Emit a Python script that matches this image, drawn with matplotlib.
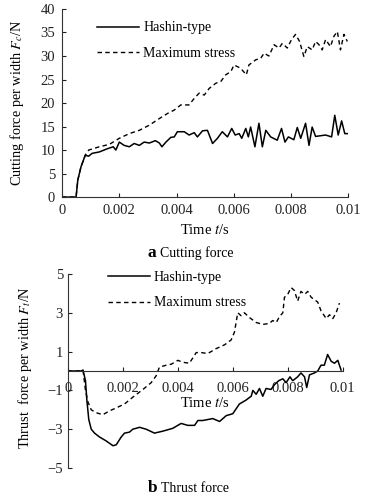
import matplotlib
matplotlib.use("Agg")
import matplotlib.pyplot as plt

plt.rcParams['font.family'] = ['Liberation Serif', 'DejaVu Serif']
plt.rcParams['mathtext.fontset'] = 'stix'

# (a) cutting force, Hashin-type
t_hc = [0, 0.00049, 0.00055, 0.00066, 0.00081, 0.00093, 0.00105, 0.0013, 0.00159, 0.00179,
        0.00188, 0.0020, 0.00217, 0.00235, 0.00252, 0.0027, 0.00287, 0.00305, 0.00326, 0.0034,
        0.00349, 0.00363, 0.0038, 0.00392, 0.00403, 0.00427, 0.00444, 0.00462, 0.00473, 0.00491,
        0.00508, 0.00526, 0.00543, 0.0056, 0.00578, 0.00593, 0.00605, 0.00619, 0.00628, 0.00642,
        0.00651, 0.00659, 0.00674, 0.00688, 0.007, 0.00712, 0.00729, 0.00752, 0.00767, 0.00779,
        0.00791, 0.0081, 0.00822, 0.00834, 0.00851, 0.00863, 0.00874, 0.00886, 0.00921, 0.00942,
        0.00953, 0.00965, 0.00977, 0.00988, 0.00997]
f_hc = [0, 0, 3.6, 6.4, 8.9, 8.7, 9.3, 9.6, 10.3, 10.7,
        10.0, 11.7, 11.0, 10.7, 11.4, 11.0, 11.7, 11.5, 12.0, 11.5,
        10.7, 11.7, 12.7, 12.8, 13.9, 13.9, 13.2, 13.7, 12.8, 14.1,
        14.2, 11.4, 12.5, 13.9, 12.8, 14.6, 13.2, 13.5, 12.5, 14.6,
        12.8, 14.9, 10.7, 15.7, 10.7, 14.2, 12.8, 12.1, 14.6, 11.7,
        12.8, 12.2, 14.8, 12.5, 15.7, 11.0, 14.9, 12.9, 13.2, 12.8,
        17.4, 13.2, 16.2, 13.5, 13.5]

# (a) cutting force, maximum stress
t_mc = [0, 0.00049, 0.00055, 0.00066, 0.00081, 0.00093, 0.0013, 0.00165, 0.002, 0.00235,
        0.0027, 0.00305, 0.0034, 0.00369, 0.00392, 0.00415, 0.00444, 0.00462, 0.00479, 0.00497,
        0.00514, 0.00537, 0.00555, 0.00572, 0.0059, 0.00601, 0.00624, 0.00644, 0.00653, 0.00677,
        0.00694, 0.00706, 0.00723, 0.00741, 0.00758, 0.0077, 0.00787, 0.00802, 0.00816, 0.0083,
        0.00845, 0.00857, 0.00874, 0.00886, 0.00898, 0.00909, 0.00921, 0.00938, 0.0095, 0.00962,
        0.00973, 0.00985, 0.00997]
f_mc = [0, 0, 3.6, 6.4, 8.9, 10.0, 10.7, 11.2, 12.5, 13.5,
        14.2, 15.3, 16.7, 17.8, 18.5, 19.6, 19.6, 21.0, 22.1, 21.7,
        23.1, 24.2, 24.6, 26.0, 26.7, 28.1, 27.4, 26.0, 28.1, 29.2,
        29.5, 30.6, 30.0, 32.4, 31.7, 32.7, 31.7, 33.5, 34.6, 33.1,
        29.9, 32.0, 31.3, 33.1, 32.4, 31.3, 33.5, 32.0, 34.2, 35.2,
        31.3, 34.6, 33.1]

# (b) thrust force, Hashin-type
t_ht = [0, 0.00048, 0.00055, 0.00064, 0.00069, 0.00076, 0.00085, 0.00097, 0.00115, 0.00139,
        0.00164, 0.00176, 0.00194, 0.00206, 0.00224, 0.00236, 0.00261, 0.00285, 0.00315, 0.00345,
        0.0037, 0.00382, 0.00412, 0.00436, 0.00461, 0.00473, 0.00491, 0.00509, 0.00527, 0.00552,
        0.00576, 0.006, 0.00624, 0.00648, 0.00667, 0.00673, 0.00685, 0.00697, 0.00709, 0.00721,
        0.00739, 0.00752, 0.00767, 0.00782, 0.00794, 0.00808, 0.00818, 0.00836, 0.00848, 0.00861,
        0.00869, 0.00879, 0.00897, 0.00909, 0.00921, 0.00933, 0.00945, 0.00958, 0.0097, 0.00982,
        0.00994]
f_ht = [0, 0, 0.05, -0.5, -1.5, -2.5, -3.0, -3.2, -3.4, -3.6,
        -3.85, -3.8, -3.4, -3.2, -3.15, -3.0, -2.9, -3.0, -3.2, -3.1,
        -3.0, -2.95, -2.7, -2.8, -2.8, -2.55, -2.55, -2.5, -2.45, -2.6,
        -2.3, -2.2, -1.7, -1.5, -1.3, -1.0, -1.2, -0.9, -1.3, -0.9,
        -0.95, -0.7, -0.5, -0.4, -0.6, -0.3, -0.5, -0.3, -0.1, -0.3,
        -0.85, -0.2, -0.1, 0.0, 0.3, 0.3, 0.85, 0.5, 0.4, 0.55,
        0.05]

# (b) thrust force, maximum stress
t_mt = [0, 0.00048, 0.00055, 0.00064, 0.00073, 0.00085, 0.00103, 0.00127, 0.00152, 0.00176,
        0.00206, 0.00236, 0.00273, 0.00303, 0.00321, 0.00333, 0.00358, 0.00376, 0.004, 0.00418,
        0.00442, 0.00467, 0.00485, 0.00509, 0.00539, 0.0057, 0.00594, 0.00606, 0.00618, 0.0063,
        0.00642, 0.00661, 0.00685, 0.00709, 0.00733, 0.00745, 0.00758, 0.0077, 0.00782, 0.00788,
        0.008, 0.00812, 0.00824, 0.00836, 0.00848, 0.00861, 0.00873, 0.00885, 0.00909, 0.00921,
        0.0094, 0.00952, 0.00964, 0.00976, 0.00988]
f_mt = [0, 0, 0.05, -1.0, -1.6, -2.0, -2.15, -2.25, -2.05, -1.9,
        -1.7, -1.35, -0.95, -0.6, -0.25, 0.2, 0.3, 0.35, 0.55, 0.45,
        0.4, 0.95, 0.95, 0.9, 1.15, 1.35, 1.6, 2.0, 3.0, 2.85,
        3.0, 2.75, 2.5, 2.4, 2.45, 2.6, 2.5, 2.8, 3.0, 3.8,
        3.95, 4.3, 4.15, 3.6, 4.1, 3.95, 4.1, 3.8, 3.55, 3.1,
        2.7, 2.9, 2.7, 3.0, 3.5]

x_ticks = [0, 0.002, 0.004, 0.006, 0.008, 0.01]
x_labels = ['0', '0.002', '0.004', '0.006', '0.008', '0.01']
yc_ticks = [0, 5, 10, 15, 20, 25, 30, 35, 40]
yt_ticks = [-5, -3, -1, 1, 3, 5]
yt_labels = ['\u22125', '\u22123', '\u22121', '1', '3', '5']

dash = (0, (3.2, 2.4))
fs = 10
tfs = 10.5

fig = plt.figure(figsize=(3.65, 4.99), dpi=100)

# ---- top panel
ax1 = fig.add_axes([0.170, 0.605, 0.784, 0.377])
ax1.plot(t_hc, f_hc, color='black', lw=1.1, label='Hashin-type')
ax1.plot(t_mc, f_mc, color='black', lw=1.0, ls=dash, label='Maximum stress')
ax1.set_xlim(0, 0.01)
ax1.set_ylim(0, 40)
ax1.set_xticks(x_ticks)
ax1.set_xticklabels(x_labels)
ax1.set_yticks(yc_ticks)
for s in ['top', 'right']:
    ax1.spines[s].set_visible(False)
for s in ['left', 'bottom']:
    ax1.spines[s].set_linewidth(0.8)
    ax1.spines[s].set_color('#333333')
ax1.tick_params(direction='in', length=3, width=0.8, labelsize=tfs, pad=5, colors='#222222')
ax1.set_xlabel('Time $t$/s', fontsize=fs + 0.5)
ax1.xaxis.set_label_coords(0.5, -0.135)
ax1.set_ylabel('Cutting force per width $F_c$/N', fontsize=fs + 0.3)
ax1.yaxis.set_label_coords(-0.125, 0.5)
ax1.legend(loc='upper left', bbox_to_anchor=(0.08, 1.0), frameon=False, fontsize=fs,
           handlelength=3.0, handletextpad=0.3, labelspacing=0.9)

# ---- bottom panel
ax2 = fig.add_axes([0.186, 0.062, 0.753, 0.389])
ax2.plot(t_ht, f_ht, color='black', lw=1.1, label='Hashin-type')
ax2.plot(t_mt, f_mt, color='black', lw=1.0, ls=dash, label='Maximum stress')
ax2.set_xlim(0, 0.01)
ax2.set_ylim(-5, 5)
ax2.set_xticks(x_ticks)
ax2.set_xticklabels(x_labels)
ax2.set_yticks(yt_ticks)
ax2.set_yticklabels(yt_labels)
ax2.spines['bottom'].set_position(('data', 0))
for s in ['top', 'right']:
    ax2.spines[s].set_visible(False)
for s in ['left', 'bottom']:
    ax2.spines[s].set_linewidth(0.8)
    ax2.spines[s].set_color('#333333')
ax2.tick_params(direction='in', length=3, width=0.8, labelsize=tfs, colors='#222222')
ax2.tick_params(axis='x', pad=8)
ax2.set_xlabel('Time $t$/s', fontsize=fs + 0.5)
ax2.xaxis.set_label_coords(0.5, 0.37)
ax2.set_ylabel('Thrust  force per width $F_t$/N', fontsize=fs + 0.3)
ax2.yaxis.set_label_coords(-0.125, 0.52)
ax2.legend(loc='upper left', bbox_to_anchor=(0.1, 1.08), frameon=False, fontsize=fs,
           handlelength=3.0, handletextpad=0.3, labelspacing=0.9)

# ---- captions
fig.text(0.405, 1 - 253 / 499, 'a', fontsize=12.5, fontweight='bold', va='center', ha='left')
fig.text(0.438, 1 - 253 / 499, 'Cutting force', fontsize=fs, va='center', ha='left')
fig.text(0.405, 1 - 488 / 499, 'b', fontsize=12.5, fontweight='bold', va='center', ha='left')
fig.text(0.441, 1 - 488 / 499, 'Thrust force', fontsize=fs, va='center', ha='left')

fig.savefig('out.png', dpi=100)
